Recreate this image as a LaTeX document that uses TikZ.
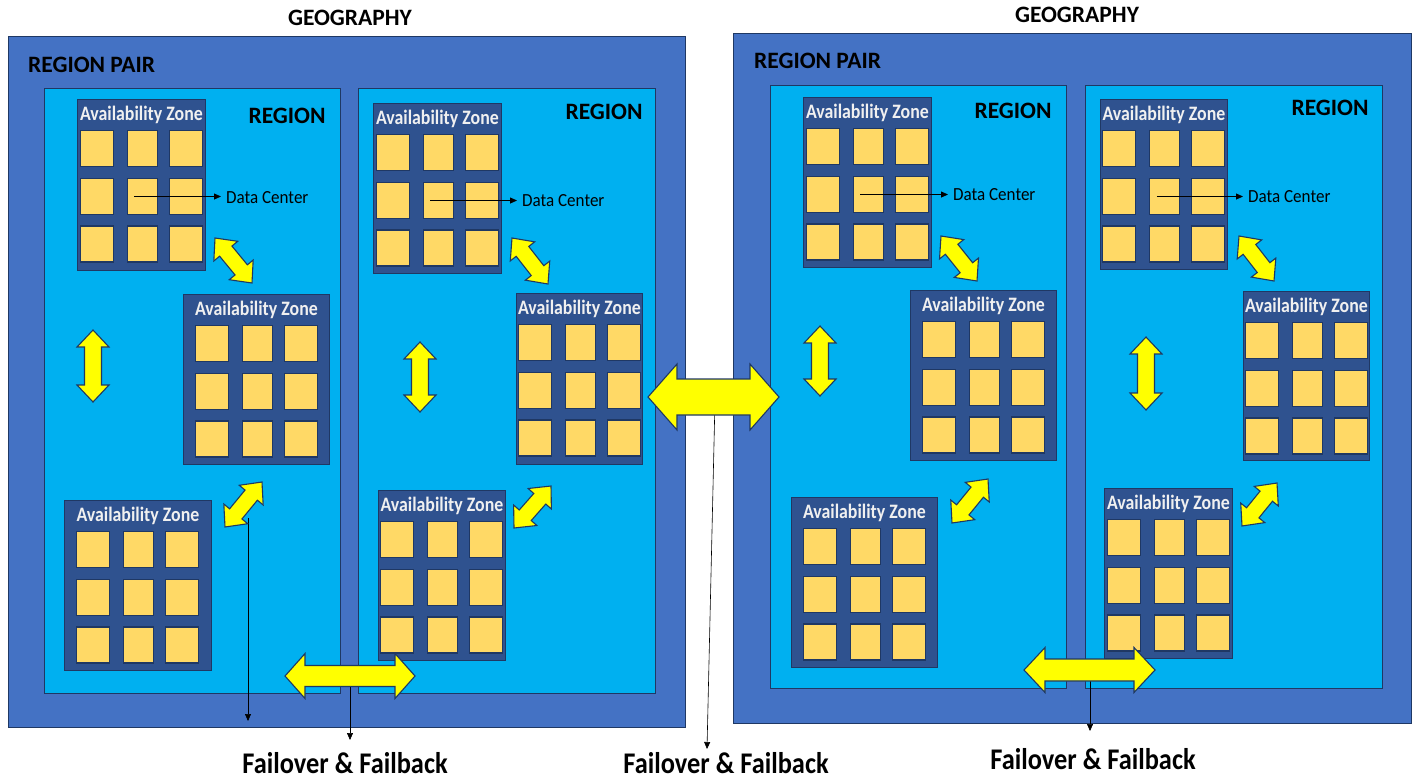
\documentclass[tikz,border=0pt]{standalone}
\usepackage{fontspec}
\setmainfont{Carlito}
\newfontfamily\azfont{Carlito}[FakeStretch=0.87]
\newfontfamily\dcfont{Carlito}[FakeStretch=0.92]
\newfontfamily\failfont{Carlito}[FakeStretch=0.88]
\usetikzlibrary{calc,arrows.meta}
\definecolor{pairblue}{HTML}{4472C4}
\definecolor{regionblue}{HTML}{00B0F0}
\definecolor{azblue}{HTML}{2F528F}
\definecolor{edgeblue}{HTML}{1F3864}
\definecolor{dcyellow}{HTML}{FFD966}
\definecolor{arrowyellow}{HTML}{FFFF00}

% availability zone: name, left, top, width, height
\newcommand\azone[5]{%
  \node[azbox, minimum width=#4pt, minimum height=#5pt] (#1) at (#2,#3) {};
  \node[aztitle] (#1-t) at ([yshift=-16pt]#1.north) {Availability Zone};
  \foreach \r/\dy in {1/49.5, 2/97.5, 3/145} {
    \foreach \c/\dx/\w in {1/-44.5/33, 2/1/30, 3/44.5/33} {
      \node[dcbox, minimum width=\w pt] (#1-\r\c) at ([xshift=\dx pt, yshift=-\dy pt]#1.north) {};
    }
  }
}
% yellow double-headed block arrow between two coordinates:
% tip A, tip B, shaft half-width, head half-width, head length
\newcommand\dblarrow[5]{%
  \draw[yarrow] (#1)
    -- ($(#1)!#5!(#2)!#4!90:(#2)$) -- ($(#1)!#5!(#2)!#3!90:(#2)$)
    -- ($(#2)!#5!(#1)!#3!-90:(#1)$) -- ($(#2)!#5!(#1)!#4!-90:(#1)$)
    -- (#2)
    -- ($(#2)!#5!(#1)!#4!90:(#1)$) -- ($(#2)!#5!(#1)!#3!90:(#1)$)
    -- ($(#1)!#5!(#2)!#3!-90:(#2)$) -- ($(#1)!#5!(#2)!#4!-90:(#2)$)
    -- cycle;
}

\begin{document}
\begin{tikzpicture}[x=1pt, y=-1pt,
  pairbox/.style={fill=pairblue, draw=edgeblue, line width=1pt, inner sep=0pt, anchor=north west},
  regionbox/.style={fill=regionblue, draw=edgeblue, line width=0.8pt, inner sep=0pt, anchor=north west},
  azbox/.style={fill=azblue, draw=edgeblue, line width=0.8pt, inner sep=0pt, anchor=north west},
  dcbox/.style={fill=dcyellow, draw=edgeblue, line width=1.1pt, inner sep=0pt, minimum height=36pt},
  heading/.style={font=\fontsize{23.5}{27}\selectfont\bfseries, text=black, inner sep=0pt},
  aztitle/.style={font=\azfont\fontsize{20.5}{23}\selectfont\bfseries, text=white!94!black, inner sep=0pt},
  dclabel/.style={font=\dcfont\fontsize{18.5}{21}\selectfont, text=black, inner sep=0pt, anchor=west},
  faillabel/.style={font=\failfont\fontsize{30}{34}\selectfont\bfseries, text=black, inner sep=0pt},
  pointer/.style={draw=black, line width=0.8pt, -{Triangle[length=7pt,width=6pt]}},
  yarrow/.style={fill=arrowyellow, draw=edgeblue, line width=1.1pt, line join=miter}]

\fill[white] (0,0) rectangle (1418,780);
\useasboundingbox (0,0) rectangle (1418,780);

% ---- geographies and region pairs ----
\node[heading] (geoL) at (350,18) {GEOGRAPHY};
\node[heading] (geoR) at (1077,15) {GEOGRAPHY};
\node[pairbox, minimum width=677pt, minimum height=691pt] (pairL) at (8,36) {};
\node[pairbox, minimum width=678pt, minimum height=690pt] (pairR) at (733,33) {};
\node[heading, anchor=west] (pairLt) at (28,65) {REGION PAIR};
\node[heading, anchor=west] (pairRt) at (754,61) {REGION PAIR};

% ---- regions ----
\node[regionbox, minimum width=296pt, minimum height=605pt] (L1) at (44,88) {};
\node[regionbox, minimum width=297pt, minimum height=605pt] (L2) at (358,88) {};
\node[regionbox, minimum width=296pt, minimum height=603pt] (R1) at (770,85) {};
\node[regionbox, minimum width=297pt, minimum height=603pt] (R2) at (1085,85) {};
\node[heading] (L1t) at (287,116) {REGION};
\node[heading] (L2t) at (604,112) {REGION};
\node[heading] (R1t) at (1013,111) {REGION};
\node[heading] (R2t) at (1330,108) {REGION};

% ---- availability zones ----
\azone{L1A}{77}{99}{128}{171}
\azone{L1B}{183}{294}{146}{170}
\azone{L1C}{64}{500}{147}{170}
\azone{L2A}{373}{103}{128}{170}
\azone{L2B}{516}{293}{126}{171}
\azone{L2C}{378}{490}{127}{170}
\azone{R1A}{803}{97}{128}{170}
\azone{R1B}{910}{290}{146}{170}
\azone{R1C}{791}{497}{146}{170}
\azone{R2A}{1100}{99}{127}{170}
\azone{R2B}{1243}{291}{126}{169}
\azone{R2C}{1104}{488}{128}{170}

% ---- data center callouts ----
\node[dclabel] (L1dc) at (226,198) {Data Center};
\node[dclabel] (L2dc) at (522,201) {Data Center};
\node[dclabel] (R1dc) at (953,195) {Data Center};
\node[dclabel] (R2dc) at (1248,197) {Data Center};
\foreach \z in {L1, L2, R1, R2} {
  \draw[pointer, shorten >=5pt] ([xshift=-8pt]\z A-22.center) -- (\z A-22.center -| \z dc.west);
}

% ---- failover labels and pointers ----
\node[faillabel] (failL) at (345,763) {Failover \& Failback};
\node[faillabel] (failC) at (726,763) {Failover \& Failback};
\node[faillabel] (failR) at (1093,759) {Failover \& Failback};

\coordinate (p1s) at (248,518); \coordinate (p1e) at (248,721);
\coordinate (p2s) at (350,678); \coordinate (p2e) at (350,740);
\coordinate (p3s) at (715,400); \coordinate (p3e) at (707,749);
\coordinate (p4s) at (1090,672); \coordinate (p4e) at (1090,731);
\draw[pointer, line width=0.6pt] (p1s) -- (p1e);
\draw[pointer, line width=0.6pt] (p2s) -- (p2e);
\draw[pointer, line width=0.6pt] (p3s) -- (p3e);
\draw[pointer, line width=0.6pt] (p4s) -- (p4e);

% ---- yellow replication arrows ----
% left pair, first region
\coordinate (a1) at (215,238);  \coordinate (b1) at (252,283);
\coordinate (a2) at (93,330);   \coordinate (b2) at (93,402);
\coordinate (a3) at (262,482);  \coordinate (b3) at (225,527);
% left pair, second region
\coordinate (a4) at (512,238);  \coordinate (b4) at (548,284);
\coordinate (a5) at (420,342);  \coordinate (b5) at (420,412);
\coordinate (a6) at (551,486);  \coordinate (b6) at (514,528);
% right pair, first region
\coordinate (a7) at (941,236);  \coordinate (b7) at (977,281);
\coordinate (a8) at (820,326);  \coordinate (b8) at (820,396);
\coordinate (a9) at (988,479);  \coordinate (b9) at (952,523);
% right pair, second region
\coordinate (a10) at (1239,236); \coordinate (b10) at (1274,281);
\coordinate (a11) at (1146,337); \coordinate (b11) at (1146,410);
\coordinate (a12) at (1277,483); \coordinate (b12) at (1242,526);
% between regions and between geographies
\coordinate (a13) at (285,676);  \coordinate (b13) at (415,676);
\coordinate (a14) at (1024,670); \coordinate (b14) at (1155,670);
\coordinate (a15) at (648,397);  \coordinate (b15) at (779,397);

\foreach \i in {1,3,4,6,7,9,10,12} {
  \dblarrow{a\i}{b\i}{8pt}{15.5pt}{17pt}
}
\foreach \i in {2,5,8,11} {
  \dblarrow{a\i}{b\i}{8.5pt}{16pt}{17pt}
}
\dblarrow{a13}{b13}{10.5pt}{22.5pt}{20pt}
\dblarrow{a14}{b14}{11pt}{22.5pt}{21pt}
\dblarrow{a15}{b15}{18pt}{33pt}{29pt}

\end{tikzpicture}
\end{document}
